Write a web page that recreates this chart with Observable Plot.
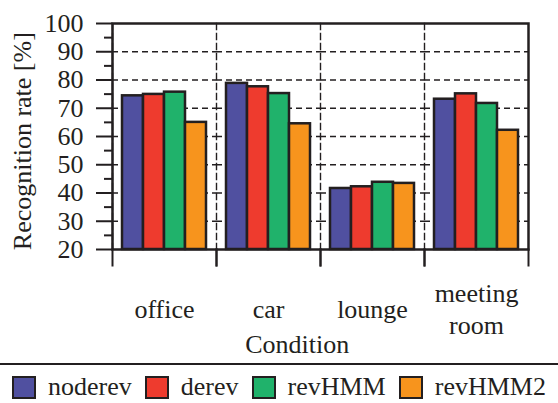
<!DOCTYPE html>
<html>
<head>
<meta charset="utf-8">
<script src="https://cdn.jsdelivr.net/npm/d3@7"></script>
<script src="https://cdn.jsdelivr.net/npm/@observablehq/plot@0.6"></script>
<style>
  body { margin: 0; background: #fff; font-family: "Liberation Serif", serif; }
  #chart { width: 558px; }
  #chart svg { display: block; }
  .lg-swatches.lg-swatches-wrap {
    border-top: 2px solid #231f20;
    margin: 0 !important;
    padding-top: 7px;
    min-height: 0 !important;
    justify-content: center;
    font-family: "Liberation Serif", serif !important;
    font-size: 26px !important;
    color: #231f20;
  }
  .lg-swatches-wrap .lg-swatch { margin-right: 13px !important; }
  .lg-swatches-wrap .lg-swatch:last-child { margin-right: 0 !important; }
  .lg-swatch > svg {
    margin-right: 12px !important;
    box-sizing: border-box;
    border: 2.5px solid #231f20;
  }
</style>
</head>
<body>
<div id="chart"></div>
<script>
// Recognition rate per acoustic condition for four front-ends
const conditions = ["office", "car", "lounge", "meeting room"];
const conditionLabels = ["office", "car", "lounge", "meeting\nroom"];
const series = ["noderev", "derev", "revHMM", "revHMM2"];
const seriesColors = ["#5050a0", "#ee3b2e", "#20b26b", "#f7941d"];

const noderev = [74.4, 78.8, 41.6, 73.2];
const derev   = [74.9, 77.6, 42.2, 75.1];
const revHMM  = [75.7, 75.2, 43.8, 71.7];
const revHMM2 = [65.0, 64.5, 43.4, 62.2];

const yDomain = [20, 100];
const yTicks = [20, 30, 40, 50, 60, 70, 80, 90, 100];
const yMinorTicks = [25, 35, 45, 55, 65, 75, 85, 95];
const yGridTicks = [30, 40, 50, 60, 70, 80, 90];

const yLabel = "Recognition rate [%]";
const xLabel = "Condition";

const seriesValues = [noderev, derev, revHMM, revHMM2];
const rows = series.flatMap((s, i) =>
  conditions.map((c, j) => ({condition: c, series: s, value: seriesValues[i][j]}))
);
const labelOf = new Map(conditions.map((c, i) => [c, conditionLabels[i]]));

const ink = "#231f20";
const font = '"Liberation Serif", serif';
const W = 558, H = 363;
const mTop = 23, mRight = 30, mBottom = 114, mLeft = 112;
const innerH = H - mTop - mBottom;
const tickLen = 16;

const chart = Plot.plot({
  width: W,
  height: H,
  marginTop: mTop,
  marginRight: mRight,
  marginBottom: mBottom,
  marginLeft: mLeft,
  style: {fontFamily: font, fontSize: "26px", color: ink, background: "#fff", overflow: "visible"},
  fx: {domain: conditions, padding: 0, axis: null},
  x: {domain: series, paddingInner: 0, paddingOuter: 0.476, axis: null},
  y: {domain: yDomain, axis: null},
  color: {domain: series, range: seriesColors},
  marks: [
    // dashed grid: horizontal levels and condition separators
    Plot.gridY(yGridTicks, {stroke: ink, strokeOpacity: 1, strokeWidth: 1.4, strokeDasharray: "6,4"}),
    Plot.frame({anchor: "left", stroke: ink, strokeWidth: 1.4, strokeDasharray: "6,4"}),
    // bars
    Plot.barY(rows, {
      fx: "condition", x: "series", y1: yDomain[0], y2: "value",
      fill: "series", stroke: ink, strokeWidth: 2.5
    }),
    // solid outer box
    Plot.frame({facet: "super", stroke: ink, strokeWidth: 2.5}),
    // ticks below the box at condition boundaries
    Plot.frame({anchor: "left", insetTop: innerH, insetBottom: -tickLen, stroke: ink, strokeWidth: 2}),
    Plot.frame({anchor: "right", insetTop: innerH, insetBottom: -tickLen, stroke: ink, strokeWidth: 2}),
    // y axis: major and minor ticks
    Plot.axisY({ticks: yTicks, tickSize: tickLen, tickPadding: 13, stroke: ink, strokeWidth: 2,
                fill: ink, fontSize: 26, fontFamily: font, label: null}),
    Plot.axisY({ticks: yMinorTicks, tickSize: 8, stroke: ink, strokeWidth: 2,
                tickFormat: () => "", label: null}),
    // condition names
    Plot.text(conditions, {
      fx: (d) => d, text: (d) => labelOf.get(d), frameAnchor: "bottom",
      dy: 58.5, lineAnchor: "middle", lineHeight: 1.2,
      fontSize: 26, fontFamily: font, fill: ink
    }),
    // axis titles
    Plot.text([xLabel], {facet: "super", frameAnchor: "bottom", dx: -23.3, dy: 95,
                         textAnchor: "middle", lineAnchor: "middle",
                         fontSize: 26, fontFamily: font, fill: ink}),
    Plot.text([yLabel], {facet: "super", frameAnchor: "left", rotate: -90, dx: -90, dy: 4.7,
                         textAnchor: "middle", lineAnchor: "middle",
                         fontSize: 26, fontFamily: font, fill: ink})
  ]
});

const legend = chart.legend("color", {className: "lg", swatchWidth: 24, swatchHeight: 23});

const root = document.getElementById("chart");
root.appendChild(chart);
root.appendChild(legend);
</script>
</body>
</html>
